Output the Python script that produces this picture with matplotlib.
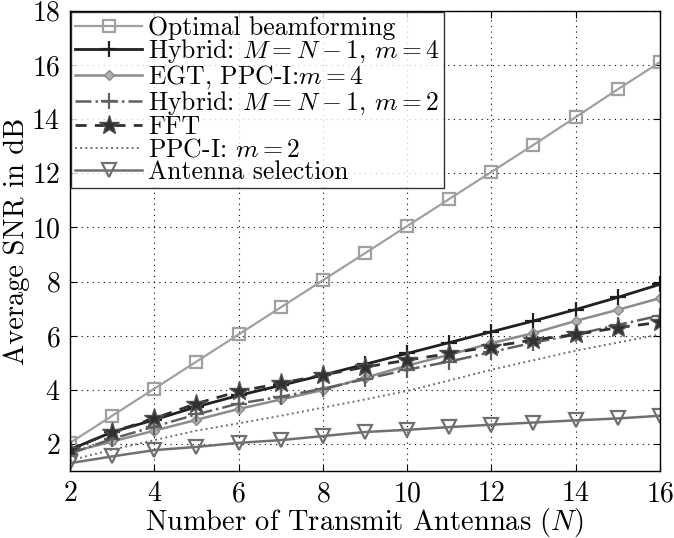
import matplotlib
matplotlib.use("Agg")
import matplotlib.pyplot as plt

plt.rcParams["font.family"] = ["cmr10", "DejaVu Serif"]
plt.rcParams["mathtext.fontset"] = "cm"
plt.rcParams["axes.unicode_minus"] = False
plt.rcParams["axes.formatter.use_mathtext"] = True

n_antennas = [2, 3, 4, 5, 6, 7, 8, 9, 10, 11, 12, 13, 14, 15, 16]

snr_optimal = [2.05, 3.05, 4.05, 5.05, 6.05, 7.05, 8.05, 9.05, 10.05, 11.05,
               12.05, 13.05, 14.07, 15.1, 16.1]
snr_hybrid_m4 = [1.8, 2.45, 2.9, 3.38, 3.8, 4.17, 4.55, 4.95, 5.35, 5.75,
                 6.15, 6.55, 6.97, 7.42, 7.9]
snr_egt_m4 = [1.7, 2.1, 2.5, 2.9, 3.3, 3.65, 4.0, 4.45, 4.9, 5.3,
              5.73, 6.1, 6.55, 6.96, 7.39]
snr_hybrid_m2 = [1.65, 2.2, 2.65, 3.1, 3.5, 3.75, 4.05, 4.4, 4.75, 5.05,
                 5.4, 5.75, 6.05, 6.4, 6.75]
snr_fft = [1.8, 2.45, 2.95, 3.5, 3.95, 4.25, 4.55, 4.85, 5.1, 5.35,
           5.6, 5.85, 6.05, 6.3, 6.5]
snr_ppc_m2 = [1.4, 1.8, 2.15, 2.5, 2.77, 3.05, 3.35, 3.65, 3.97, 4.35,
              4.75, 5.1, 5.45, 5.75, 6.05]
snr_antenna_sel = [1.3, 1.55, 1.78, 1.9, 2.05, 2.15, 2.3, 2.45, 2.53, 2.63,
                   2.72, 2.8, 2.88, 2.95, 3.05]

x_ticks = [2, 4, 6, 8, 10, 12, 14, 16]
y_ticks = [2, 4, 6, 8, 10, 12, 14, 16, 18]

fig = plt.figure(figsize=(6.74, 5.38), dpi=100)
ax = fig.add_axes([0.104, 0.124, 0.875, 0.856])

ax.plot(n_antennas, snr_optimal, color="#a0a0a0", lw=1.6, marker="s",
        ms=9, mfc="none", mec="#a0a0a0", mew=1.6, label="Optimal beamforming")
ax.plot(n_antennas, snr_hybrid_m4, color="#202020", lw=2.0, marker="+",
        ms=12, mew=1.6, label=r"Hybrid: $M = N-1$, $m = 4$")
ax.plot(n_antennas, snr_egt_m4, color="#8c8c8c", lw=1.8, marker="D",
        ms=5, mfc="#b0b0b0", mec="#8c8c8c", label=r"EGT, PPC-I:$m = 4$")
ax.plot(n_antennas, snr_hybrid_m2, color="#606060", lw=1.8, ls="-.",
        marker="+", ms=12, mew=1.6, label=r"Hybrid: $M = N-1$, $m = 2$")
ax.plot(n_antennas, snr_fft, color="#303030", lw=2.0, ls="--", dashes=(4, 3),
        marker="*", ms=15, mfc="#303030", mec="#505050", label="FFT")
ax.plot(n_antennas, snr_ppc_m2, color="#707070", lw=1.4, ls=":",
        label=r"PPC-I: $m = 2$")
ax.plot(n_antennas, snr_antenna_sel, color="#707070", lw=1.8, marker="v",
        ms=10, mfc="none", mec="#707070", mew=1.6, label="Antenna selection")

ax.set_xlim(2, 16)
ax.set_ylim(1, 18)
ax.set_xticks(x_ticks)
ax.set_yticks(y_ticks)
ax.tick_params(direction="in", top=True, right=True, labelsize=20, length=5,
               pad=7)
ax.grid(True, color="black", ls=(0, (1, 4)), lw=0.8)
for spine in ax.spines.values():
    spine.set_linewidth(1.0)

ax.set_xlabel(r"Number of Transmit Antennas $(N)$", fontsize=20.5, labelpad=-1)
ax.set_ylabel("Average SNR in dB", fontsize=20.5, labelpad=1)

leg = ax.legend(loc="upper left", fontsize=18.5, frameon=True, fancybox=False,
                edgecolor="black", borderpad=0.15, labelspacing=-0.06,
                handlelength=2.6, handletextpad=0.25, borderaxespad=0.05)
leg.get_frame().set_linewidth(1.0)

fig.savefig("out.png", dpi=100)
